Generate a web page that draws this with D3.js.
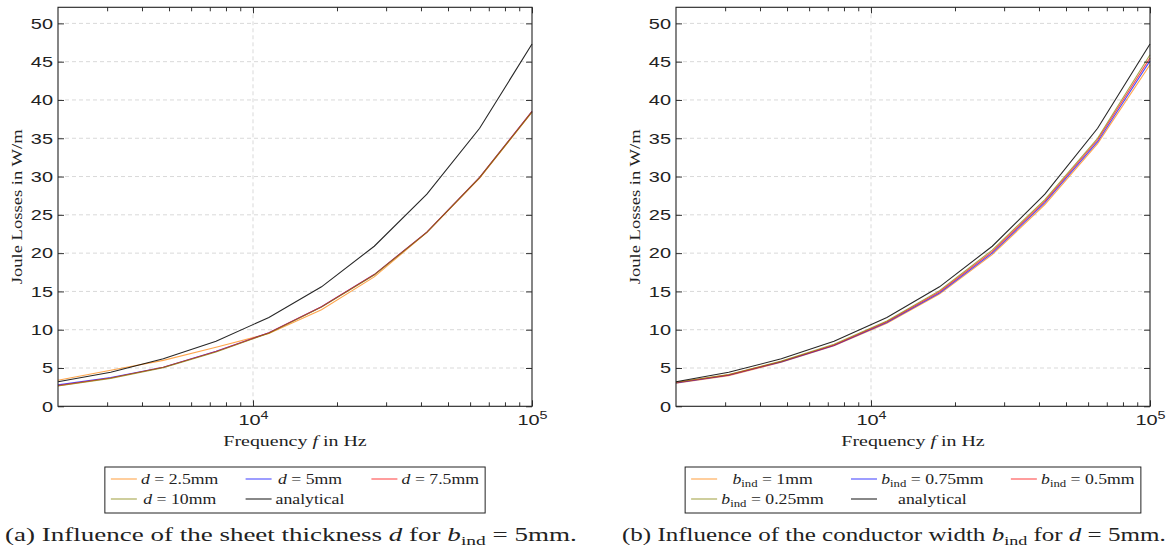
<!DOCTYPE html>
<html>
<head>
<meta charset="utf-8">
<script src="https://cdn.jsdelivr.net/npm/d3@7/dist/d3.min.js"></script>
<style>
  body { margin: 0; background: #fff; }
  svg { display: block; font-family: "Liberation Serif", "DejaVu Serif", serif; fill: #222; }
</style>
</head>
<body>
<svg id="chart" width="1169" height="555"></svg>
<script>
// frequency samples (Hz)
var freqHz = [2000, 3090, 4770, 7370, 11400, 17600, 27200, 42000, 64900, 100000];

// Joule losses in W/m
var lossAnalytical = [3.2, 4.45, 6.2, 8.5, 11.6, 15.6, 20.9, 27.7, 36.3, 47.3];

// (a) sheet thickness d
var lossD25 = [3.4, 4.7, 6.0, 7.7, 9.5, 12.6, 16.9, 22.7, 29.8, 38.4];
var lossD5  = [2.8, 3.75, 5.1, 7.2, 9.6, 13.0, 17.2, 22.75, 29.9, 38.5];
var lossD75 = [2.7, 3.7, 5.1, 7.15, 9.6, 13.0, 17.2, 22.75, 29.9, 38.5];
var lossD10 = [2.65, 3.65, 5.05, 7.1, 9.55, 12.95, 17.15, 22.7, 29.85, 38.45];

// (b) conductor width b_ind
var lossB1   = [3.0, 4.0, 5.75, 7.9, 10.85, 14.65, 19.8, 26.35, 34.3, 44.6];
var lossB075 = [3.05, 4.05, 5.8, 7.95, 10.95, 14.8, 20.0, 26.6, 34.55, 45.1];
var lossB05  = [3.1, 4.1, 5.85, 8.0, 11.05, 14.95, 20.2, 26.8, 34.8, 45.5];
var lossB025 = [3.15, 4.15, 5.9, 8.1, 11.15, 15.1, 20.4, 27.0, 35.0, 45.9];

var yTicks = [0, 5, 10, 15, 20, 25, 30, 35, 40, 45, 50];
var xMajorTicks = [1e4, 1e5];
var xMinorTicks = [3000, 4000, 5000, 6000, 7000, 8000, 9000,
                   20000, 30000, 40000, 50000, 60000, 70000, 80000, 90000];

var svg = d3.select('#chart');
var FS = 15;     // chart text size
var KX = 1.33;   // horizontal stretch, the reference font is wider
var KL = 1.18;   // same for legend entries

// widen a text element around its own anchor point
function stretch(t, k) {
	var x = +t.attr('x') || 0, y = +t.attr('y') || 0;
	t.attr('transform', 'translate(' + x + ',' + y + ') scale(' + k + ',1) translate(' + (-x) + ',' + (-y) + ')');
}

function drawPanel(ox, series, legendRows) {
	var x0 = ox, x1 = ox + 474, yTop = 7.3, yBot = 406.3;
	var x = d3.scaleLog().domain([2000, 100000]).range([x0, x1]);
	var y = d3.scaleLinear().domain([0, 52.1]).range([yBot, yTop]);
	var g = svg.append('g');

	// grid
	g.selectAll('.gy').data(yTicks.filter(function(d){ return d > 0; }))
		.enter().append('line')
		.attr('x1', x0).attr('x2', x1)
		.attr('y1', function(d){ return y(d); }).attr('y2', function(d){ return y(d); })
		.attr('stroke', '#d9d9d9').attr('stroke-dasharray', '4,3');
	g.selectAll('.gx').data([1e4])
		.enter().append('line')
		.attr('y1', yTop).attr('y2', yBot)
		.attr('x1', function(d){ return x(d); }).attr('x2', function(d){ return x(d); })
		.attr('stroke', '#d9d9d9').attr('stroke-dasharray', '4,3');

	// lines
	var line = d3.line()
		.x(function(d, i){ return x(freqHz[i]); })
		.y(function(d){ return y(d); });
	series.forEach(function(s) {
		g.append('path')
			.attr('d', line(s.values))
			.attr('fill', 'none')
			.attr('stroke', s.color)
			.attr('stroke-opacity', s.opacity)
			.attr('stroke-width', 1.1);
	});

	// axes (ticks inside, mirrored)
	var ax = function(axis, tr, size) {
		var a = g.append('g').attr('transform', tr).call(axis.tickSizeInner(size).tickSizeOuter(0));
		a.select('.domain').remove();
		a.selectAll('line').attr('stroke', '#333');
		return a;
	};
	ax(d3.axisBottom(x).tickValues(xMinorTicks).tickFormat(''), 'translate(0,' + yBot + ')', -4);
	ax(d3.axisTop(x).tickValues(xMinorTicks).tickFormat(''), 'translate(0,' + yTop + ')', -4);
	ax(d3.axisTop(x).tickValues(xMajorTicks).tickFormat(''), 'translate(0,' + yTop + ')', -6);
	var xb = ax(d3.axisBottom(x).tickValues(xMajorTicks), 'translate(0,' + yBot + ')', -6);
	xb.selectAll('text').each(function(d) {
		var t = d3.select(this).text(null)
			.attr('x', 0).attr('y', 19).attr('dy', null)
			.attr('fill', '#222').style('font-size', FS + 'px').style('font-family', 'inherit');
		t.append('tspan').text('10');
		t.append('tspan').attr('dy', -6).style('font-size', (FS * 0.72) + 'px').text(Math.round(Math.log10(d)));
		stretch(t, KX);
	});
	var yl = ax(d3.axisLeft(y).tickValues(yTicks), 'translate(' + x0 + ',0)', -6);
	yl.selectAll('text').attr('x', -5).attr('fill', '#222')
		.style('font-size', FS + 'px').style('font-family', 'inherit')
		.each(function(){ stretch(d3.select(this), KX); });
	ax(d3.axisRight(y).tickValues(yTicks).tickFormat(''), 'translate(' + x1 + ',0)', -6);

	g.append('rect').attr('x', x0).attr('y', yTop)
		.attr('width', x1 - x0).attr('height', yBot - yTop)
		.attr('fill', 'none').attr('stroke', '#222').attr('stroke-width', 1.1);

	// axis labels
	var xlab = g.append('text').attr('x', (x0 + x1) / 2).attr('y', 446)
		.attr('text-anchor', 'middle').style('font-size', FS + 'px');
	xlab.append('tspan').text('Frequency ');
	xlab.append('tspan').style('font-style', 'italic').text('f');
	xlab.append('tspan').text(' in Hz');
	stretch(xlab, KX);
	g.append('text')
		.attr('transform', 'translate(' + (x0 - 36) + ',' + ((yTop + yBot) / 2) + ') rotate(-90) scale(1.24,1)')
		.attr('text-anchor', 'middle').style('font-size', FS + 'px')
		.text('Joule Losses in W/m');

	// legend
	var lg = g.append('g');
	var cells = [];
	legendRows.forEach(function(row, r) {
		row.forEach(function(item, c) {
			var t = lg.append('text').attr('text-anchor', 'middle').style('font-size', FS + 'px');
			writeMath(t, item.label, FS);
			cells.push({ r: r, c: c, t: t, w: t.node().getBBox().width * KL, color: item.color, opacity: item.opacity });
		});
	});
	var nCols = 3, colW = [];
	for (var c = 0; c < nCols; c++) {
		colW.push(d3.max(cells.filter(function(k){ return k.c === c; }), function(k){ return k.w; }));
	}
	var pad = 6, lineLen = 26, gap = 4, colGap = 27;
	var boxW = pad * 2 + d3.sum(colW) + nCols * (lineLen + gap) + (nCols - 1) * colGap;
	var bx = (x0 + x1) / 2 - boxW / 2, by = 467, rowH = 20;
	var colX = [], acc = bx + pad;
	colW.forEach(function(w){ colX.push(acc); acc += lineLen + gap + w + colGap; });
	lg.insert('rect', ':first-child').attr('x', bx).attr('y', by).attr('width', boxW).attr('height', 46)
		.attr('fill', '#fff').attr('stroke', '#222').attr('stroke-width', 1);
	cells.forEach(function(k) {
		var cy = by + 12 + k.r * rowH;
		lg.append('line').attr('x1', colX[k.c]).attr('x2', colX[k.c] + lineLen)
			.attr('y1', cy).attr('y2', cy)
			.attr('stroke', k.color).attr('stroke-opacity', k.opacity).attr('stroke-width', 1.1);
		k.t.attr('x', colX[k.c] + lineLen + gap + colW[k.c] / 2).attr('y', cy + 5);
		stretch(k.t, KL);
	});
}

// label: [sym, sub, rest]
function writeMath(t, label, fs) {
	if (label[0]) t.append('tspan').style('font-style', 'italic').text(label[0]);
	if (label[1]) {
		t.append('tspan').attr('dy', 3).style('font-size', (fs * 0.72) + 'px').text(label[1]);
		t.append('tspan').attr('dy', -3).text(label[2]);
	} else {
		t.append('tspan').text(label[2]);
	}
}

var cOrange = '#ff8000', cBlue = '#0000ff', cRed = '#ff0000', cOlive = '#808000', cBlack = '#000';

drawPanel(58, [
	{ values: lossD25, color: cOrange, opacity: 0.7 },
	{ values: lossD5, color: cBlue, opacity: 0.7 },
	{ values: lossD75, color: cRed, opacity: 0.7 },
	{ values: lossD10, color: cOlive, opacity: 0.7 },
	{ values: lossAnalytical, color: cBlack, opacity: 0.85 }
], [
	[{ label: ['d', '', ' = 2.5mm'], color: cOrange, opacity: 0.7 },
	 { label: ['d', '', ' = 5mm'], color: cBlue, opacity: 0.7 },
	 { label: ['d', '', ' = 7.5mm'], color: cRed, opacity: 0.7 }],
	[{ label: ['d', '', ' = 10mm'], color: cOlive, opacity: 0.7 },
	 { label: ['', '', 'analytical'], color: cBlack, opacity: 0.85 }]
]);

drawPanel(676, [
	{ values: lossB1, color: cOrange, opacity: 0.7 },
	{ values: lossB075, color: cBlue, opacity: 0.7 },
	{ values: lossB05, color: cRed, opacity: 0.7 },
	{ values: lossB025, color: cOlive, opacity: 0.7 },
	{ values: lossAnalytical, color: cBlack, opacity: 0.85 }
], [
	[{ label: ['b', 'ind', ' = 1mm'], color: cOrange, opacity: 0.7 },
	 { label: ['b', 'ind', ' = 0.75mm'], color: cBlue, opacity: 0.7 },
	 { label: ['b', 'ind', ' = 0.5mm'], color: cRed, opacity: 0.7 }],
	[{ label: ['b', 'ind', ' = 0.25mm'], color: cOlive, opacity: 0.7 },
	 { label: ['', '', 'analytical'], color: cBlack, opacity: 0.85 }]
]);

// captions, widened to the reference width
var CFS = 18.5;
function caption(xs, targetW, parts) {
	var t = svg.append('text').attr('x', xs).attr('y', 541).style('font-size', CFS + 'px');
	parts.forEach(function(p) {
		var s = t.append('tspan').text(p.s);
		if (p.i) s.style('font-style', 'italic');
		if (p.sub) s.attr('dy', 4).style('font-size', (CFS * 0.72) + 'px');
		if (p.up) s.attr('dy', -4);
	});
	stretch(t, targetW / t.node().getComputedTextLength());
}
caption(5, 572, [{ s: '(a)  Influence of the sheet thickness ' }, { s: 'd', i: 1 }, { s: ' for ' },
	{ s: 'b', i: 1 }, { s: 'ind', sub: 1 }, { s: ' = 5mm.', up: 1 }]);
caption(622, 544, [{ s: '(b)  Influence of the conductor width ' }, { s: 'b', i: 1 }, { s: 'ind', sub: 1 },
	{ s: ' for ', up: 1 }, { s: 'd', i: 1 }, { s: ' = 5mm.' }]);
</script>
</body>
</html>
